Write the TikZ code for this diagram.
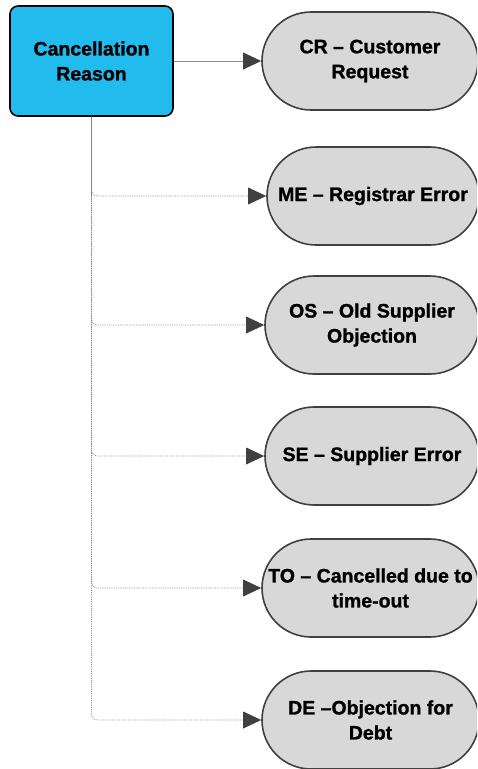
\documentclass[tikz,border=0pt]{standalone}
\usepackage{fontspec}
\setmainfont{Liberation Sans}[BoldFeatures={FakeBold=1.2}]
\usetikzlibrary{arrows.meta,shapes.misc}
\definecolor{boxblue}{HTML}{22BBEE}
\definecolor{pillgray}{HTML}{D8D8D8}
\definecolor{pilledge}{HTML}{404040}
\definecolor{tipgray}{HTML}{404040}
\definecolor{linegray}{HTML}{8A8A8A}
\tikzset{
  mainbox/.style={draw=black, line width=1.6pt, fill=boxblue, rounded corners=8pt,
    minimum width=163pt, minimum height=110pt, align=center, inner sep=0pt,
    font=\bfseries\fontsize{19.5}{25}\selectfont},
  pill/.style={draw=pilledge, line width=1.6pt, fill=pillgray, rounded rectangle,
    minimum height=98pt, align=center, inner sep=0pt,
    font=\bfseries\fontsize{19.5}{25}\selectfont},
  conn/.style={draw=linegray, line width=0.8pt, -{Triangle[length=18pt,width=17pt,fill=tipgray,color=tipgray,line width=0pt]}},
  branch/.style={conn, densely dotted, rounded corners=6pt},
}
\begin{document}
\begin{tikzpicture}[x=1pt,y=-1pt]
\useasboundingbox (0,0) rectangle (477,769);
\begin{scope}
\clip (0,0) rectangle (477,769);
\node[mainbox] (main) at (91.5,61) {Cancellation\\Reason};
\node[pill, minimum width=216pt] (cr) at (370,61) {CR – Customer\\Request};
\node[pill, minimum width=212pt] (me) at (373,196) {ME – Registrar Error};
\node[pill, minimum width=214pt] (os) at (372,325) {OS – Old Supplier\\Objection};
\node[pill, minimum width=214pt] (se) at (372,456) {SE – Supplier Error};
\node[pill, minimum width=217pt] (to) at (370.5,588) {TO – Cancelled due to\\time-out};
\node[pill, minimum width=217pt] (de) at (370.5,720) {DE –Objection for\\Debt};
\end{scope}
\draw[conn] (main.east) -- (cr.west);
\draw[draw=linegray!80!black, line width=0.9pt] (main.south) -- ([yshift=-80pt]main.south);
\draw[branch] (main.south) |- (me.west);
\draw[branch] (main.south) |- (os.west);
\draw[branch] (main.south) |- (se.west);
\draw[branch] (main.south) |- (to.west);
\draw[branch] (main.south) |- (de.west);
\end{tikzpicture}
\end{document}
